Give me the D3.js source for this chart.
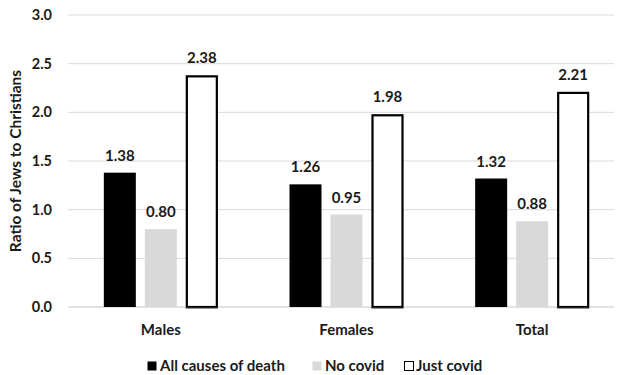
<!DOCTYPE html>
<html><head><meta charset="utf-8">
<script src="https://cdn.jsdelivr.net/npm/d3@7"></script>
<style>body{margin:0;background:#fff}svg{display:block;font-family:Lato,"Open Sans",sans-serif;font-weight:bold}</style>
</head><body><svg id="c" width="619" height="375"></svg>
<script>
const categories = ["Males", "Females", "Total"];
const seriesNames = ["All causes of death", "No covid", "Just covid"];
const allCauses = [1.38, 1.26, 1.32];
const noCovid = [0.80, 0.95, 0.88];
const justCovid = [2.38, 1.98, 2.21];
const yTicks = [0, 0.5, 1.0, 1.5, 2.0, 2.5, 3.0];
const yTitle = "Ratio of Jews to Christians";

const seriesValues = [allCauses, noCovid, justCovid];
const fills = ["#000000", "#d9d9d9", "#ffffff"];

const svg = d3.select("#c");
const x0 = d3.scaleBand().domain(categories).range([68, 625]);
const x1 = d3.scaleBand().domain(seriesNames).range([-57, 57]).paddingInner(9/41).paddingOuter(0);
const y = d3.scaleLinear().domain([0, 3]).range([307, 15]);

// gridlines
svg.append("g").selectAll("line").data(yTicks).join("line")
  .attr("x1", 68).attr("x2", 614)
  .attr("y1", d => y(d)).attr("y2", d => y(d))
  .attr("stroke", "#d9d9d9").attr("stroke-width", d => d === 0 ? 1.5 : 1);

// y tick labels
svg.append("g").selectAll("text").data(yTicks).join("text")
  .attr("x", 52).attr("y", d => y(d)).attr("dy", "0.35em")
  .attr("text-anchor", "end").attr("font-size", 14.5).attr("fill", "#1a1a1a")
  .text(d => d3.format(".1f")(d));

// y title
svg.append("text").attr("transform", `translate(21,${(y(0)+y(3))/2}) rotate(-90)`)
  .attr("text-anchor", "middle").attr("font-size", 15.5).attr("fill", "#1a1a1a")
  .text(yTitle);

// bars
const data = [];
categories.forEach((c, i) => seriesNames.forEach((s, j) => data.push({c, s, j, v: seriesValues[j][i]})));
const cx = d => x0(d.c) + x0.bandwidth()/2 + x1(d.s);

svg.append("g").selectAll("rect").data(data).join("rect")
  .attr("x", d => d.j === 2 ? cx(d) + 1 : cx(d))
  .attr("y", d => d.j === 2 ? y(d.v) + 1 : y(d.v))
  .attr("width", d => d.j === 2 ? x1.bandwidth() - 2 : x1.bandwidth())
  .attr("height", d => d.j === 2 ? y(0) - y(d.v) - 1 : y(0) - y(d.v))
  .attr("fill", d => fills[d.j])
  .attr("stroke", d => d.j === 2 ? "#000" : "none")
  .attr("stroke-width", 2.2);

// white bar bottoms (dark thin line)
svg.append("g").selectAll("line").data(data.filter(d => d.j === 2)).join("line")
  .attr("x1", d => cx(d)).attr("x2", d => cx(d) + x1.bandwidth())
  .attr("y1", y(0) + 1).attr("y2", y(0) + 1)
  .attr("stroke", "#404040").attr("stroke-width", 1);

// value labels
svg.append("g").selectAll("text").data(data).join("text")
  .attr("x", d => cx(d) + x1.bandwidth()/2)
  .attr("y", d => y(d.v) - 12)
  .attr("text-anchor", "middle").attr("font-size", 15).attr("fill", "#1a1a1a")
  .text(d => d3.format(".2f")(d.v));

// category labels
svg.append("g").selectAll("text").data(categories).join("text")
  .attr("x", d => x0(d) + x0.bandwidth()/2).attr("y", 335)
  .attr("text-anchor", "middle").attr("font-size", 15).attr("fill", "#1a1a1a")
  .text(d => d);

// legend
const legX = [147, 312, 404];
const leg = svg.append("g").selectAll("g").data(seriesNames).join("g")
  .attr("transform", (d, i) => `translate(${legX[i]},0)`);
leg.append("rect").attr("x", 0.5).attr("y", 361.5).attr("width", 9).attr("height", 9)
  .attr("fill", (d, i) => fills[i])
  .attr("stroke", (d, i) => i === 2 ? "#000" : "none").attr("stroke-width", 1);
leg.append("text").attr("x", (d, i) => i === 2 ? 12 : 13).attr("y", 371)
  .attr("font-size", 15).attr("fill", "#1a1a1a").text(d => d);
</script></body></html>
